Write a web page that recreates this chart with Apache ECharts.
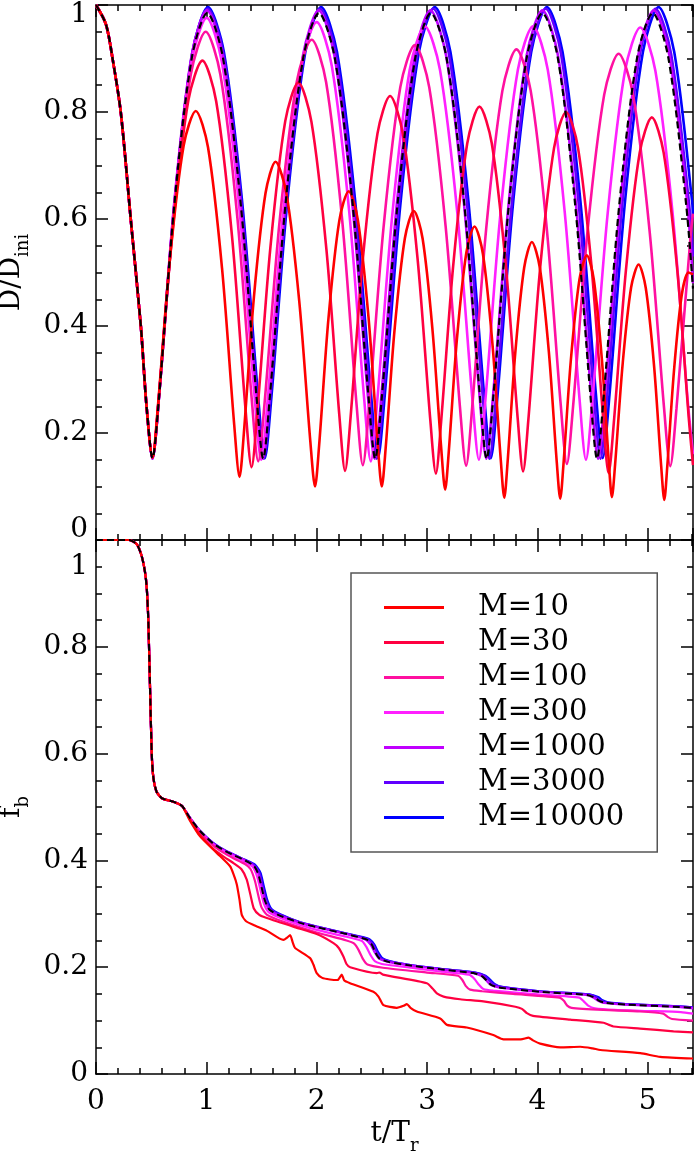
<!DOCTYPE html>
<html>
<head>
<meta charset="utf-8">
<script src="https://cdn.jsdelivr.net/npm/echarts@6/dist/echarts.min.js"></script>
<style>
  html, body { margin: 0; padding: 0; background: #fff; }
  #chart { width: 694px; height: 1155px; }
</style>
</head>
<body>
<div id="chart"></div>
<script>
// legend names and line colours, red (M=10) to blue (M=10000)
const names = ['M=10', 'M=30', 'M=100', 'M=300', 'M=1000', 'M=3000', 'M=10000'];
const colors = ['#ff0000', '#ff0040', '#ff10a0', '#ff20ff', '#c000ff', '#6000ff', '#0000ff'];

// top panel, D/Dini against t/Tr : shared first fall
const dStart = [[0, 1], [0.09, 0.964], [0.15, 0.9], [0.226, 0.797], [0.316, 0.597], [0.407, 0.398], [0.458, 0.25]];

const dM10 = [[0.512, 0.154],
  [0.559, 0.245], [0.669, 0.523], [0.794, 0.737], [0.904, 0.802],
  [1.015, 0.734], [1.142, 0.508], [1.253, 0.214], [1.301, 0.118],
  [1.34, 0.2], [1.431, 0.454], [1.536, 0.648], [1.627, 0.707],
  [1.727, 0.646], [1.842, 0.446], [1.942, 0.185], [1.985, 0.1],
  [2.022, 0.177], [2.107, 0.415], [2.205, 0.597], [2.29, 0.652],
  [2.374, 0.597], [2.47, 0.415], [2.554, 0.177], [2.59, 0.1],
  [2.625, 0.172], [2.706, 0.394], [2.799, 0.564], [2.88, 0.615],
  [2.96, 0.563], [3.05, 0.391], [3.13, 0.167], [3.164, 0.094],
  [3.196, 0.163], [3.27, 0.374], [3.356, 0.537], [3.43, 0.586],
  [3.506, 0.535], [3.592, 0.368], [3.668, 0.15], [3.7, 0.079],
  [3.73, 0.146], [3.8, 0.351], [3.88, 0.509], [3.95, 0.557],
  [4.022, 0.509], [4.104, 0.351], [4.176, 0.144], [4.207, 0.077],
  [4.236, 0.141], [4.303, 0.336], [4.381, 0.487], [4.448, 0.532],
  [4.511, 0.487], [4.584, 0.338], [4.648, 0.143], [4.675, 0.08],
  [4.704, 0.141], [4.772, 0.328], [4.849, 0.472], [4.917, 0.515],
  [4.982, 0.471], [5.057, 0.326], [5.122, 0.137], [5.15, 0.075],
  [5.176, 0.135], [5.238, 0.317], [5.308, 0.458], [5.37, 0.5], [5.41, 0.496]];

const dM30 = [[0.512, 0.154],
  [0.566, 0.258], [0.693, 0.577], [0.837, 0.822], [0.964, 0.896],
  [1.089, 0.82], [1.232, 0.569], [1.356, 0.242], [1.41, 0.136],
  [1.461, 0.237], [1.58, 0.546], [1.715, 0.783], [1.834, 0.855],
  [1.952, 0.782], [2.088, 0.543], [2.206, 0.231], [2.257, 0.129],
  [2.306, 0.227], [2.42, 0.529], [2.551, 0.76], [2.665, 0.83],
  [2.781, 0.759], [2.914, 0.526], [3.03, 0.223], [3.08, 0.124],
  [3.127, 0.22], [3.238, 0.515], [3.364, 0.741], [3.475, 0.81],
  [3.586, 0.742], [3.712, 0.517], [3.823, 0.223], [3.87, 0.128],
  [3.917, 0.222], [4.026, 0.511], [4.151, 0.733], [4.26, 0.8],
  [4.368, 0.733], [4.491, 0.51], [4.599, 0.22], [4.645, 0.125],
  [4.692, 0.218], [4.802, 0.504], [4.927, 0.724], [5.037, 0.79],
  [5.144, 0.724], [5.267, 0.506], [5.374, 0.222], [5.41, 0.14]];

const dM100 = [[0.512, 0.154],
  [0.57, 0.265], [0.705, 0.608], [0.859, 0.87], [0.994, 0.95],
  [1.127, 0.87], [1.28, 0.605], [1.413, 0.259], [1.47, 0.147],
  [1.528, 0.257], [1.664, 0.596], [1.819, 0.856], [1.955, 0.935],
  [2.085, 0.856], [2.233, 0.593], [2.362, 0.251], [2.418, 0.14],
  [2.475, 0.25], [2.607, 0.587], [2.758, 0.847], [2.89, 0.925],
  [3.02, 0.846], [3.168, 0.587], [3.298, 0.249], [3.354, 0.139],
  [3.409, 0.248], [3.536, 0.582], [3.682, 0.839], [3.81, 0.917],
  [3.939, 0.84], [4.084, 0.584], [4.212, 0.251], [4.267, 0.142],
  [4.323, 0.249], [4.455, 0.579], [4.605, 0.832], [4.736, 0.909],
  [4.867, 0.832], [5.017, 0.577], [5.148, 0.246], [5.204, 0.138],
  [5.26, 0.245], [5.39, 0.572], [5.41, 0.61]];

const dM300 = [[0.512, 0.154],
  [0.571, 0.269], [0.708, 0.623], [0.866, 0.894], [1.003, 0.976],
  [1.141, 0.893], [1.299, 0.621], [1.438, 0.266], [1.497, 0.15],
  [1.557, 0.265], [1.698, 0.616], [1.859, 0.886], [2.0, 0.968],
  [2.137, 0.886], [2.294, 0.615], [2.431, 0.262], [2.49, 0.147],
  [2.549, 0.261], [2.686, 0.61], [2.843, 0.879], [2.98, 0.96],
  [3.117, 0.879], [3.274, 0.612], [3.411, 0.263], [3.47, 0.15],
  [3.529, 0.263], [3.666, 0.612], [3.823, 0.879], [3.96, 0.96],
  [4.094, 0.879], [4.248, 0.612], [4.382, 0.263], [4.44, 0.15],
  [4.499, 0.263], [4.637, 0.611], [4.794, 0.877], [4.932, 0.958],
  [5.069, 0.877], [5.225, 0.611], [5.361, 0.263], [5.41, 0.16]];

const dM1000 = [[0.512, 0.152],
  [0.571, 0.269], [0.709, 0.63], [0.867, 0.906], [1.005, 0.99],
  [1.147, 0.906], [1.309, 0.63], [1.451, 0.269], [1.512, 0.152],
  [1.573, 0.269], [1.714, 0.63], [1.876, 0.906], [2.018, 0.99],
  [2.16, 0.906], [2.322, 0.63], [2.464, 0.269], [2.525, 0.152],
  [2.586, 0.269], [2.727, 0.63], [2.889, 0.906], [3.03, 0.99],
  [3.172, 0.906], [3.334, 0.63], [3.476, 0.269], [3.537, 0.152],
  [3.598, 0.269], [3.74, 0.63], [3.903, 0.906], [4.045, 0.99],
  [4.186, 0.906], [4.348, 0.63], [4.489, 0.269], [4.55, 0.152],
  [4.611, 0.269], [4.752, 0.63], [4.914, 0.906], [5.055, 0.99],
  [5.196, 0.906], [5.358, 0.63], [5.41, 0.48]];

const dM3000 = [[0.512, 0.152],
  [0.572, 0.27], [0.712, 0.631], [0.872, 0.909], [1.012, 0.993],
  [1.154, 0.909], [1.317, 0.631], [1.459, 0.27], [1.52, 0.152],
  [1.581, 0.27], [1.724, 0.631], [1.887, 0.909], [2.03, 0.993],
  [2.173, 0.909], [2.337, 0.631], [2.481, 0.27], [2.542, 0.152],
  [2.604, 0.27], [2.747, 0.631], [2.911, 0.909], [3.055, 0.993],
  [3.198, 0.909], [3.361, 0.631], [3.504, 0.27], [3.565, 0.152],
  [3.626, 0.27], [3.769, 0.631], [3.932, 0.909], [4.075, 0.993],
  [4.214, 0.909], [4.373, 0.631], [4.512, 0.27], [4.572, 0.152],
  [4.632, 0.27], [4.771, 0.631], [4.93, 0.909], [5.07, 0.993],
  [5.211, 0.909], [5.373, 0.631], [5.41, 0.53]];

const dM10000 = [[0.512, 0.153],
  [0.572, 0.271], [0.713, 0.633], [0.874, 0.912], [1.015, 0.996],
  [1.159, 0.912], [1.324, 0.633], [1.468, 0.271], [1.53, 0.153],
  [1.591, 0.271], [1.734, 0.633], [1.897, 0.912], [2.04, 0.996],
  [2.184, 0.912], [2.349, 0.633], [2.493, 0.271], [2.555, 0.153],
  [2.617, 0.271], [2.761, 0.633], [2.926, 0.912], [3.07, 0.996],
  [3.212, 0.912], [3.375, 0.633], [3.517, 0.271], [3.578, 0.153],
  [3.639, 0.271], [3.781, 0.633], [3.944, 0.912], [4.086, 0.996],
  [4.228, 0.912], [4.39, 0.633], [4.531, 0.271], [4.592, 0.153],
  [4.653, 0.271], [4.794, 0.633], [4.956, 0.912], [5.098, 0.996],
  [5.24, 0.912], [5.402, 0.633], [5.41, 0.6]];

const dRef = [[0.512, 0.153],
  [0.572, 0.269], [0.71, 0.627], [0.869, 0.902], [1.008, 0.985],
  [1.15, 0.902], [1.312, 0.627], [1.454, 0.269], [1.515, 0.152],
  [1.576, 0.269], [1.717, 0.627], [1.879, 0.902], [2.02, 0.985],
  [2.163, 0.902], [2.326, 0.627], [2.469, 0.269], [2.53, 0.152],
  [2.591, 0.269], [2.732, 0.627], [2.894, 0.902], [3.035, 0.985],
  [3.176, 0.902], [3.338, 0.627], [3.479, 0.269], [3.54, 0.152],
  [3.601, 0.269], [3.742, 0.627], [3.904, 0.902], [4.045, 0.985],
  [4.184, 0.902], [4.342, 0.627], [4.481, 0.269], [4.54, 0.152],
  [4.601, 0.269], [4.742, 0.627], [4.904, 0.902], [5.045, 0.985],
  [5.186, 0.902], [5.348, 0.627], [5.41, 0.47]];

// bottom panel, f_b against t/Tr : shared first drop
const fStart = [[0, 1], [0.3, 1], [0.37, 0.992], [0.414, 0.97], [0.444, 0.94], [0.46, 0.91],
  [0.474, 0.85], [0.49, 0.72], [0.505, 0.6], [0.52, 0.555], [0.55, 0.528], [0.6, 0.516],
  [0.7, 0.51], [0.78, 0.502]];

const fM10 = [[0.85, 0.475], [0.943, 0.445], [1.094, 0.414], [1.215, 0.389], [1.25, 0.372],
  [1.276, 0.355], [1.3, 0.327], [1.321, 0.298], [1.36, 0.286], [1.427, 0.279], [1.55, 0.268],
  [1.698, 0.251], [1.735, 0.256], [1.759, 0.26], [1.785, 0.245], [1.804, 0.236], [1.94, 0.217],
  [1.97, 0.205], [2.0, 0.189], [2.05, 0.18], [2.12, 0.177], [2.19, 0.176], [2.227, 0.186],
  [2.25, 0.175], [2.303, 0.17], [2.514, 0.154], [2.56, 0.145], [2.605, 0.129], [2.726, 0.124],
  [2.79, 0.128], [2.817, 0.131], [2.85, 0.124], [2.907, 0.117], [3.119, 0.104], [3.18, 0.092],
  [3.36, 0.087], [3.6, 0.073], [3.693, 0.065], [3.85, 0.065], [3.92, 0.068], [3.96, 0.063],
  [4.025, 0.057], [4.207, 0.05], [4.388, 0.051], [4.5, 0.048], [4.57, 0.045], [4.932, 0.039],
  [5.113, 0.032], [5.41, 0.029]];

const fM30 = [[0.85, 0.477], [0.943, 0.448], [1.06, 0.422], [1.15, 0.408], [1.245, 0.395],
  [1.32, 0.383], [1.366, 0.364], [1.4, 0.335], [1.43, 0.31], [1.48, 0.298], [1.548, 0.292],
  [1.8, 0.275], [2.0, 0.262], [2.152, 0.245], [2.2, 0.236], [2.242, 0.22], [2.27, 0.206],
  [2.303, 0.2], [2.545, 0.189], [2.57, 0.19], [2.6, 0.186], [2.998, 0.17], [3.05, 0.16],
  [3.089, 0.151], [3.15, 0.145], [3.3, 0.14], [3.51, 0.136], [3.8, 0.126], [3.86, 0.122],
  [3.905, 0.114], [3.96, 0.109], [4.297, 0.102], [4.6, 0.096], [4.65, 0.092], [4.69, 0.089],
  [4.93, 0.085], [5.234, 0.08], [5.41, 0.078]];

const fM100 = [[0.85, 0.479], [0.943, 0.452], [1.06, 0.428], [1.15, 0.415], [1.245, 0.404],
  [1.35, 0.393], [1.4, 0.384], [1.44, 0.362], [1.47, 0.335], [1.5, 0.312], [1.55, 0.298],
  [1.7, 0.285], [2.0, 0.265], [2.27, 0.25], [2.34, 0.244], [2.38, 0.232], [2.42, 0.215],
  [2.46, 0.205], [2.6, 0.199], [3.0, 0.19], [3.28, 0.184], [3.32, 0.176], [3.35, 0.165],
  [3.39, 0.158], [3.5, 0.155], [3.78, 0.15], [4.2, 0.143], [4.24, 0.137], [4.27, 0.128],
  [4.31, 0.124], [4.6, 0.12], [4.93, 0.117], [5.14, 0.113], [5.18, 0.107], [5.22, 0.103],
  [5.41, 0.1]];

const fM300 = [[0.85, 0.48], [0.943, 0.454], [1.06, 0.43], [1.15, 0.418], [1.245, 0.408],
  [1.35, 0.397], [1.42, 0.388], [1.46, 0.37], [1.49, 0.345], [1.52, 0.32], [1.56, 0.304],
  [1.65, 0.294], [1.85, 0.279], [2.0, 0.27], [2.27, 0.257], [2.41, 0.249], [2.45, 0.238],
  [2.49, 0.222], [2.53, 0.211], [2.62, 0.205], [2.82, 0.2], [3.12, 0.192], [3.38, 0.186],
  [3.43, 0.178], [3.47, 0.167], [3.51, 0.159], [3.6, 0.156], [4.0, 0.149], [4.38, 0.143],
  [4.42, 0.136], [4.46, 0.128], [4.52, 0.123], [4.7, 0.12], [5.0, 0.118], [5.3, 0.116],
  [5.41, 0.113]];

const fM1000 = [[0.85, 0.48], [0.943, 0.455], [1.06, 0.432], [1.15, 0.42], [1.245, 0.41],
  [1.35, 0.4], [1.42, 0.391], [1.47, 0.376], [1.5, 0.351], [1.53, 0.326], [1.57, 0.308],
  [1.65, 0.298], [1.85, 0.283], [2.0, 0.275], [2.27, 0.262], [2.44, 0.252], [2.49, 0.242],
  [2.525, 0.228], [2.565, 0.216], [2.65, 0.21], [2.82, 0.204], [3.12, 0.196], [3.42, 0.189],
  [3.5, 0.183], [3.537, 0.175], [3.575, 0.167], [3.65, 0.162], [4.02, 0.154], [4.44, 0.148],
  [4.51, 0.143], [4.55, 0.137], [4.6, 0.133], [4.8, 0.13], [5.23, 0.126], [5.41, 0.123]];

const fM3000 = [[0.85, 0.48], [0.943, 0.455], [1.06, 0.433], [1.15, 0.421], [1.245, 0.411],
  [1.35, 0.401], [1.43, 0.392], [1.48, 0.377], [1.51, 0.352], [1.54, 0.327], [1.58, 0.309],
  [1.66, 0.299], [1.85, 0.284], [2.0, 0.276], [2.27, 0.263], [2.46, 0.253], [2.51, 0.243],
  [2.542, 0.229], [2.58, 0.217], [2.66, 0.211], [2.82, 0.205], [3.12, 0.197], [3.43, 0.19],
  [3.52, 0.184], [3.56, 0.176], [3.6, 0.168], [3.67, 0.163], [4.02, 0.155], [4.46, 0.149],
  [4.53, 0.144], [4.57, 0.138], [4.62, 0.134], [4.8, 0.131], [5.23, 0.127], [5.41, 0.125]];

const fM10000 = [[0.85, 0.48], [0.943, 0.455], [1.06, 0.433], [1.15, 0.421], [1.245, 0.411],
  [1.35, 0.401], [1.44, 0.392], [1.49, 0.377], [1.52, 0.352], [1.55, 0.327], [1.59, 0.309],
  [1.67, 0.299], [1.85, 0.284], [2.0, 0.276], [2.27, 0.263], [2.47, 0.253], [2.52, 0.243],
  [2.555, 0.229], [2.595, 0.217], [2.67, 0.211], [2.82, 0.205], [3.12, 0.197], [3.44, 0.19],
  [3.53, 0.184], [3.575, 0.176], [3.615, 0.168], [3.68, 0.163], [4.02, 0.155], [4.47, 0.149],
  [4.55, 0.144], [4.59, 0.138], [4.64, 0.134], [4.8, 0.131], [5.23, 0.127], [5.41, 0.125]];

const fRef = [[0.85, 0.48], [0.943, 0.455], [1.06, 0.432], [1.15, 0.42], [1.245, 0.41],
  [1.35, 0.4], [1.43, 0.39], [1.47, 0.375], [1.5, 0.35], [1.53, 0.325], [1.57, 0.308],
  [1.65, 0.298], [1.85, 0.283], [2.0, 0.275], [2.27, 0.262], [2.45, 0.252], [2.5, 0.242],
  [2.53, 0.228], [2.57, 0.216], [2.65, 0.21], [2.82, 0.204], [3.12, 0.196], [3.42, 0.189],
  [3.5, 0.183], [3.54, 0.175], [3.58, 0.167], [3.65, 0.162], [4.02, 0.154], [4.45, 0.148],
  [4.52, 0.143], [4.56, 0.137], [4.62, 0.133], [4.8, 0.13], [5.23, 0.126], [5.41, 0.124]];

const topSets = [dM10, dM30, dM100, dM300, dM1000, dM3000, dM10000];
const botSets = [fM10, fM30, fM100, fM300, fM1000, fM3000, fM10000];

const FONT = '"DejaVu Serif", serif';
const LBL = 28;
const chart = echarts.init(document.getElementById('chart'));

const tickLine = { color: '#000', width: 1.5 };

function xAxisOf(grid, position, labels) {
  return {
    type: 'value', gridIndex: grid, position: position,
    min: 0, max: 5.41, interval: 1,
    axisLine: { show: true, onZero: false, lineStyle: tickLine },
    axisTick: { show: true, inside: true, length: 12, lineStyle: tickLine },
    minorTick: { show: true, splitNumber: 5, length: 6, lineStyle: tickLine },
    splitLine: { show: false },
    axisLabel: {
      show: labels, showMaxLabel: false, margin: 14,
      fontFamily: FONT, fontSize: LBL, color: '#000'
    }
  };
}

function yAxisOf(grid, position, labels, formatter) {
  return {
    type: 'value', gridIndex: grid, position: position,
    min: 0, max: 1, interval: 0.2,
    axisLine: { show: true, onZero: false, lineStyle: tickLine },
    axisTick: { show: true, inside: true, length: 12, lineStyle: tickLine },
    minorTick: { show: true, splitNumber: 4, length: 6, lineStyle: tickLine },
    splitLine: { show: false },
    axisLabel: {
      show: labels, margin: 8, formatter: formatter,
      fontFamily: FONT, fontSize: LBL, color: '#000',
      rich: {
        lo: { fontFamily: FONT, fontSize: LBL, color: '#000', padding: [20, 0, 0, 0] },
        lo2: { fontFamily: FONT, fontSize: LBL, color: '#000', padding: [54, 0, 0, 0] },
        hi: { fontFamily: FONT, fontSize: LBL, color: '#000', padding: [0, 0, 20, 0] }
      }
    }
  };
}

const nameRich = {
  n: { fontFamily: FONT, fontSize: LBL, color: '#000', verticalAlign: 'top', lineHeight: 35 },
  s: { fontFamily: FONT, fontSize: 18, color: '#000', verticalAlign: 'bottom', lineHeight: 18 }
};

const fmt = v => String(Math.round(v * 10) / 10);

const xAxes = [
  xAxisOf(0, 'bottom', false),
  xAxisOf(0, 'top', false),
  Object.assign(xAxisOf(1, 'bottom', true), {
    name: '{n|t/T}{s|r}', nameLocation: 'middle', nameGap: 46,
    nameTextStyle: { rich: nameRich }
  }),
  xAxisOf(1, 'top', false)
];

const yAxes = [
  Object.assign(yAxisOf(0, 'left', true, v => v === 1 ? '{lo|1}' : (v === 0 ? '{hi|0}' : fmt(v))), {
    name: '{n|D/D}{s|ini}', nameLocation: 'middle', nameGap: 59,
    nameTextStyle: { rich: nameRich }
  }),
  yAxisOf(0, 'right', false),
  Object.assign(yAxisOf(1, 'left', true, v => v === 1 ? '{lo2|1}' : fmt(v)), {
    name: '{n|f}{s|b}', nameLocation: 'middle', nameGap: 59,
    nameTextStyle: { rich: nameRich }
  }),
  yAxisOf(1, 'right', false)
];

const series = [];
// drawn from blue up to red so the red lies on top
for (let i = names.length - 1; i >= 0; i--) {
  series.push({
    name: names[i], type: 'line', xAxisIndex: 0, yAxisIndex: 0,
    data: dStart.concat(topSets[i]), showSymbol: false, symbol: 'none',
    smooth: 0.3, lineStyle: { color: colors[i], width: 2.6 }, itemStyle: { color: colors[i] }
  });
  series.push({
    name: names[i], type: 'line', xAxisIndex: 2, yAxisIndex: 2,
    data: fStart.concat(botSets[i]), showSymbol: false, symbol: 'none',
    smooth: 0.2, lineStyle: { color: colors[i], width: 2.2 }, itemStyle: { color: colors[i] }
  });
}
series.push({
  name: 'ref', type: 'line', xAxisIndex: 0, yAxisIndex: 0,
  data: dStart.concat(dRef), showSymbol: false, symbol: 'none', smooth: 0.3,
  lineStyle: { color: '#000', width: 2.2, type: [7, 4] }, itemStyle: { color: '#000' }
});
series.push({
  name: 'ref', type: 'line', xAxisIndex: 2, yAxisIndex: 2,
  data: fStart.concat(fRef), showSymbol: false, symbol: 'none', smooth: 0.2,
  lineStyle: { color: '#000', width: 2, type: [7, 4] }, itemStyle: { color: '#000' }
});

chart.setOption({
  animation: false,
  backgroundColor: '#fff',
  grid: [
    { left: 96, right: 1, top: 5, height: 535, containLabel: false, outerBoundsMode: 'none' },
    { left: 96, right: 1, top: 540, height: 534, containLabel: false, outerBoundsMode: 'none' }
  ],
  xAxis: xAxes,
  yAxis: yAxes,
  legend: {
    data: names,
    orient: 'vertical',
    left: 351, top: 573,
    padding: [20, 33, 20, 33],
    itemWidth: 60, itemHeight: 3, itemGap: 6,
    icon: 'rect',
    borderColor: '#555', borderWidth: 1.5, backgroundColor: '#fff',
    textStyle: { fontFamily: FONT, fontSize: 29, color: '#000', lineHeight: 28, padding: [0, 0, 0, 29] }
  },
  series: series
});
</script>
</body>
</html>
